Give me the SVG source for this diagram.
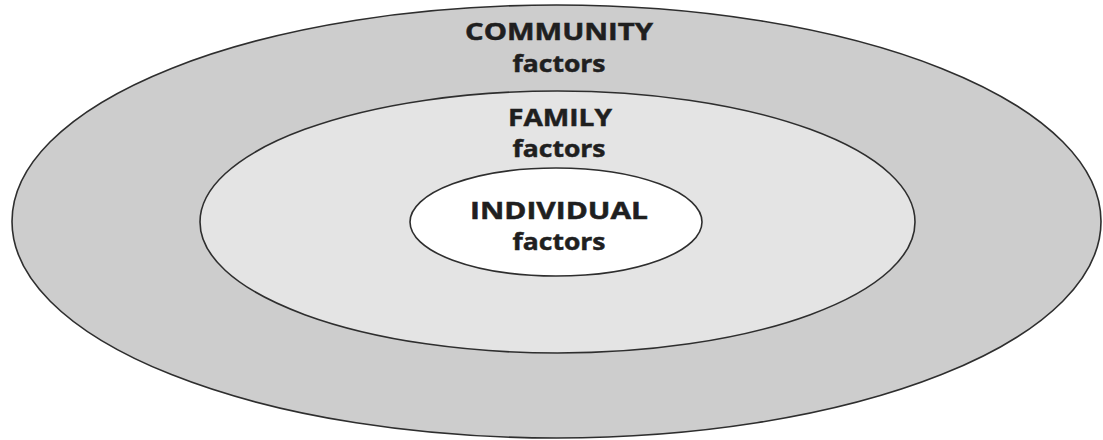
<svg xmlns="http://www.w3.org/2000/svg" width="1103" height="440" viewBox="0 0 1103 440">
  <style>
    .ring { stroke: #2e2e2e; stroke-width: 1.6; }
    .label { font-family: "Open Sans", "Liberation Sans", sans-serif; font-weight: 700; font-size: 23.5px; fill: #1f1f1f; stroke: #1f1f1f; stroke-width: 0.5; text-anchor: middle; }
  </style>
  <rect width="1103" height="440" fill="#ffffff"/>

  <!-- outer ring: community -->
  <g id="community">
    <ellipse class="ring" cx="556.5" cy="221.5" rx="544.5" ry="216.5" fill="#cdcdcd"/>
    <text class="label" x="559" y="40" textLength="188" lengthAdjust="spacingAndGlyphs">COMMUNITY</text>
    <text class="label" x="559" y="72" textLength="93" lengthAdjust="spacingAndGlyphs">factors</text>
  </g>

  <!-- middle ring: family -->
  <g id="family">
    <ellipse class="ring" cx="557.5" cy="222" rx="357.5" ry="131" fill="#e4e4e4"/>
    <text class="label" x="560" y="126" textLength="104" lengthAdjust="spacingAndGlyphs">FAMILY</text>
    <text class="label" x="559" y="157" textLength="93" lengthAdjust="spacingAndGlyphs">factors</text>
  </g>

  <!-- inner ring: individual -->
  <g id="individual">
    <ellipse class="ring" cx="556" cy="222" rx="146" ry="54" fill="#ffffff"/>
    <text class="label" x="559" y="219" textLength="178" lengthAdjust="spacingAndGlyphs">INDIVIDUAL</text>
    <text class="label" x="559" y="250" textLength="93" lengthAdjust="spacingAndGlyphs">factors</text>
  </g>

  <g id="connectors"/>
</svg>
